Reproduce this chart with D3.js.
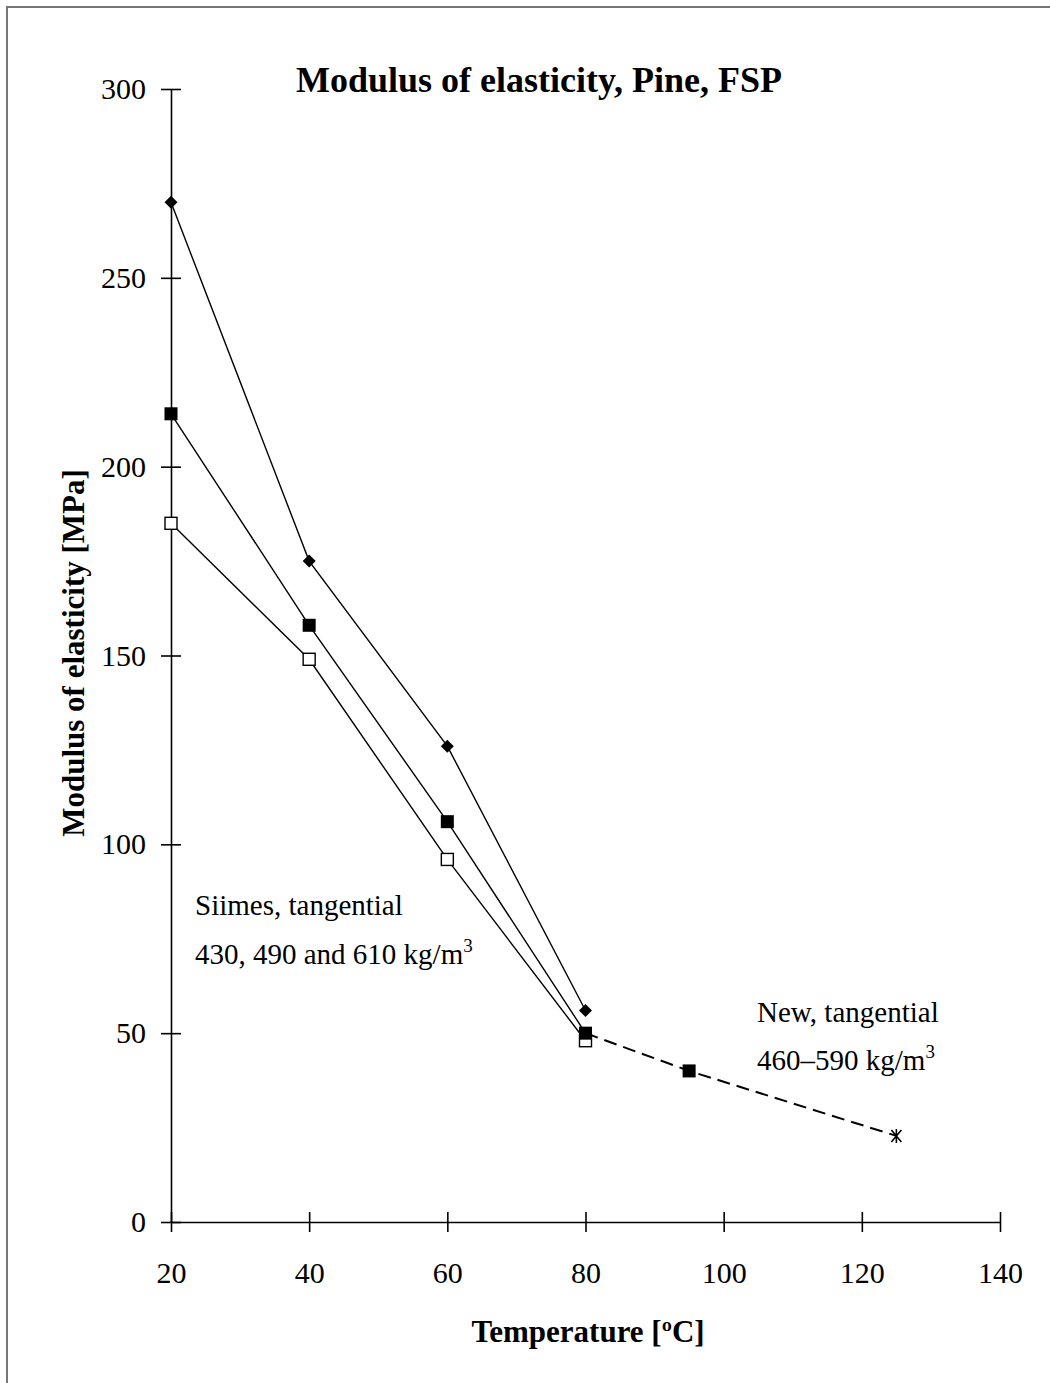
<!DOCTYPE html>
<html>
<head>
<meta charset="utf-8">
<script src="https://cdn.jsdelivr.net/npm/d3@7"></script>
<style>
  body { margin: 0; background: #fff; }
  text { font-family: "Liberation Serif", "DejaVu Serif", serif; fill: #000; }
</style>
</head>
<body>
<svg id="chart" width="1050" height="1383"></svg>
<script>
// data
const temps = [20, 40, 60, 80];
const siimes430 = [270, 175, 126, 56];   // diamonds
const siimes490 = [214, 158, 106, 50];   // filled squares
const siimes610 = [185, 149, 96, 48];    // open squares
const newTemps = [80, 95, 125];
const newValues = [50, 40, 22.8];
const xTicks = [20, 40, 60, 80, 100, 120, 140];
const yTicks = [0, 50, 100, 150, 200, 250, 300];

const svg = d3.select("#chart");

// frame (only top and left edges are visible in the original)
svg.append("path")
  .attr("d", "M7,1383 L7,7 L1050,7")
  .attr("fill", "none")
  .attr("stroke", "#777")
  .attr("stroke-width", 2);

var x = d3.scaleLinear().domain([20, 140]).range([171, 1000]);
var y = d3.scaleLinear().domain([0, 300]).range([1222, 89]);

// axes - ticks cross the axis line
const gx = svg.append("g").attr("transform", "translate(0,1222)");
gx.call(d3.axisBottom(x).tickValues(xTicks).tickSize(0).tickPadding(40));
gx.select(".domain").attr("stroke", "#000").attr("stroke-width", 1.6);
gx.selectAll(".tick").append("line")
  .attr("y1", -10).attr("y2", 10)
  .attr("stroke", "#000").attr("stroke-width", 1.6);
gx.selectAll(".tick text").attr("font-size", 30);

const gy = svg.append("g").attr("transform", "translate(171,0)");
gy.call(d3.axisLeft(y).tickValues(yTicks).tickSize(0).tickPadding(25));
gy.select(".domain").attr("stroke", "#000").attr("stroke-width", 1.6);
gy.selectAll(".tick").append("line")
  .attr("x1", -10).attr("x2", 10)
  .attr("stroke", "#000").attr("stroke-width", 1.6);
gy.selectAll(".tick text").attr("font-size", 30);

// lines
var line = d3.line().x(d => x(d[0])).y(d => y(d[1]));
const series = [siimes430, siimes490, siimes610];
series.forEach(vals => {
  svg.append("path")
    .datum(temps.map((t, i) => [t, vals[i]]))
    .attr("d", line)
    .attr("fill", "none")
    .attr("stroke", "#000")
    .attr("stroke-width", 1.4);
});
svg.append("path")
  .datum(newTemps.map((t, i) => [t, newValues[i]]))
  .attr("d", line)
  .attr("fill", "none")
  .attr("stroke", "#000")
  .attr("stroke-width", 2)
  .attr("stroke-dasharray", "13,7");

// markers
svg.selectAll("path.diamond")
  .data(temps.map((t, i) => [t, siimes430[i]]))
  .enter().append("path")
  .attr("class", "diamond")
  .attr("d", "M0,-6.5 L6.5,0 L0,6.5 L-6.5,0 Z")
  .attr("transform", d => `translate(${x(d[0])},${y(d[1])})`)
  .attr("fill", "#000");

svg.selectAll("rect.open")
  .data(temps.map((t, i) => [t, siimes610[i]]))
  .enter().append("rect")
  .attr("class", "open")
  .attr("x", d => x(d[0]) - 6)
  .attr("y", d => y(d[1]) - 6)
  .attr("width", 12).attr("height", 12)
  .attr("fill", "#fff")
  .attr("stroke", "#000")
  .attr("stroke-width", 1.4);

svg.selectAll("rect.filled")
  .data(temps.map((t, i) => [t, siimes490[i]]).concat([[newTemps[1], newValues[1]]]))
  .enter().append("rect")
  .attr("class", "filled")
  .attr("x", d => x(d[0]) - 6.5)
  .attr("y", d => y(d[1]) - 6.5)
  .attr("width", 13).attr("height", 13)
  .attr("fill", "#000");

// asterisk at last point
const star = svg.append("g")
  .attr("transform", `translate(${x(newTemps[2])},${y(newValues[2])})`);
star.append("path")
  .attr("d", "M-5,-6 L5,6 M5,-6 L-5,6 M0,-7 L0,7")
  .attr("stroke", "#000").attr("stroke-width", 1.6);

// title and axis labels
svg.append("text")
  .attr("x", 539).attr("y", 92)
  .attr("text-anchor", "middle")
  .attr("font-size", 36).attr("font-weight", "bold")
  .text("Modulus of elasticity, Pine, FSP");

svg.append("text")
  .attr("x", 588).attr("y", 1342)
  .attr("text-anchor", "middle")
  .attr("font-size", 31).attr("font-weight", "bold")
  .text("Temperature [ºC]");

svg.append("text")
  .attr("transform", "translate(84,653) rotate(-90)")
  .attr("text-anchor", "middle")
  .attr("font-size", 31).attr("font-weight", "bold")
  .text("Modulus of elasticity [MPa]");

// annotations
function annot(xp, yp, txt, sup) {
  const t = svg.append("text").attr("x", xp).attr("y", yp).attr("font-size", 29);
  t.append("tspan").text(txt);
  if (sup) t.append("tspan").attr("dy", -12).attr("font-size", 19).text(sup);
}
annot(195, 915, "Siimes, tangential");
annot(195, 964, "430, 490 and 610 kg/m", "3");
annot(757, 1022, "New, tangential");
annot(757, 1070, "460–590 kg/m", "3");
</script>
</body>
</html>
